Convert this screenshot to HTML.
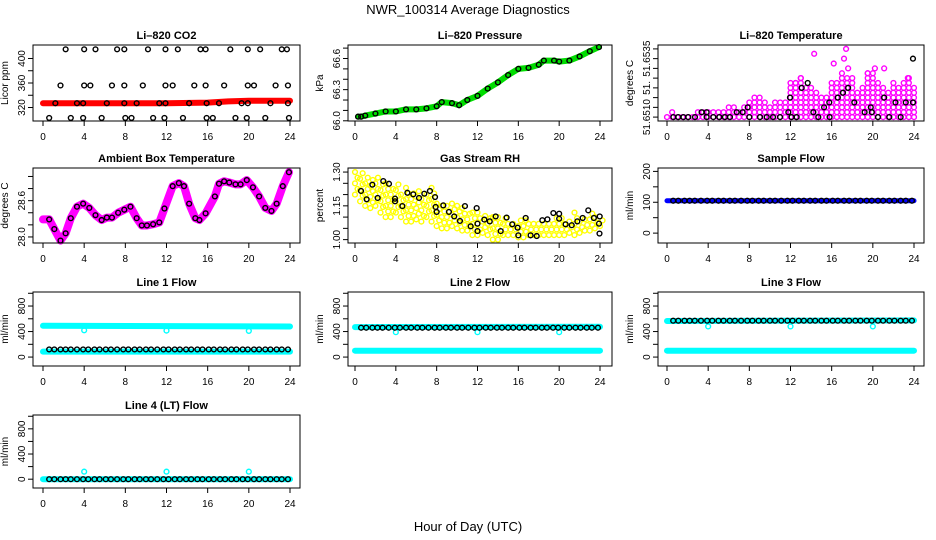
<!DOCTYPE html>
<html><head><meta charset="utf-8"><style>
html,body{margin:0;padding:0;background:#fff}
svg{display:block;font-family:"Liberation Sans",Arial,sans-serif}
</style></head><body>
<svg id="chart" width="936" height="540" viewBox="0 0 936 540" xmlns="http://www.w3.org/2000/svg">
<text x="468" y="14" text-anchor="middle" font-size="13">NWR_100314  Average Diagnostics</text>
<text x="468" y="531" text-anchor="middle" font-size="13">Hour of Day (UTC)</text>
</svg>
<script>
// ---------- data ----------
const xTicks = [0,4,8,12,16,20,24];
const blackHours = [0.6,1.1,1.7,2.2,2.7,3.3,3.9,4.4,5.0,5.5,6.1,6.6,7.2,7.8,8.3,8.9,9.4,10.0,10.5,11.1,11.7,12.2,12.8,13.3,13.9,14.4,15.0,15.5,16.1,16.6,17.2,17.7,18.3,18.8,19.4,19.9,20.5,21.0,21.6,22.1,22.7,23.2,23.8];

// CO2
const co2BandHours = [0,4,8,12,16,18,20,22,24];
const co2BandValues = [327,327,327,327,328,330,331,331,331];
const co2BlackHours = [2.2,4.0,5.1,7.2,7.9,10.2,11.9,13.1,15.3,15.8,18.2,19.9,21.1,23.2,23.7, 1.7,4.0,4.6,6.7,7.9,9.7,11.9,12.6,14.7,15.8,17.6,19.9,20.5,22.6,23.8, 1.2,3.3,3.9,6.2,7.9,9.1,11.3,11.9,14.2,15.9,17.1,19.3,19.9,22.1,23.8, 0.6,2.7,3.9,5.7,8.0,8.6,10.7,11.8,13.6,15.9,16.5,18.7,19.8,21.6,23.9];
const co2BlackValues = [415,415,415,415,415,415,415,415,415,415,415,415,415,415,415, 356,356,356,356,356,356,356,356,356,356,356,356,356,356,356, 327,327,327,327,327,327,327,327,327,327,327,327,327,327,327, 303,303,303,303,303,303,303,303,303,303,303,303,303,303,303];

// Pressure
const presHours = [0.3,0.6,1,2,3,4,5,6,7,8,8.5,9.5,10.2,11,12,13,14,15,16,17,18,18.5,19.5,20,21,22,23,23.9];
const presValues = [66.04,66.04,66.05,66.07,66.09,66.09,66.11,66.11,66.12,66.14,66.18,66.17,66.15,66.20,66.24,66.31,66.37,66.44,66.50,66.51,66.54,66.58,66.58,66.57,66.58,66.62,66.67,66.71];

// Li-820 temperature
const tempBlackHours = [0.62,1.1,1.6,2.07,2.72,3.36,3.85,3.85,4.5,5.09,5.63,6.12,6.77,7.35,7.84,8.0,9.04,9.69,10.3,10.98,11.79,11.95,12.1,12.6,13.09,13.67,14.22,14.7,15.26,15.77,15.8,16.6,17.1,17.6,18.2,19.2,19.8,19.9,20.5,21.1,21.6,22.2,22.7,23.2,23.9,23.9];
const tempBlackValues = [51.6505,51.6505,51.6505,51.6505,51.6505,51.65075,51.65075,51.6505,51.6505,51.6505,51.6505,51.6505,51.65075,51.65075,51.651,51.6505,51.6505,51.6505,51.6505,51.6505,51.65075,51.6515,51.6505,51.6505,51.652,51.65225,51.65075,51.6505,51.651,51.65125,51.6505,51.6515,51.65175,51.652,51.65125,51.65075,51.651,51.65075,51.6505,51.6515,51.6505,51.65125,51.6505,51.65125,51.65125,51.6535];
const tempMagHours = [0,0.5,1,1.5,2,2.5,3,3.5,4,4.5,5,5.5,6,6.5,7,7.5,8,8.5,9,9.5,10,10.5,11,11.5,12,12.5,13,13.5,14,14.5,15,15.5,16,16.5,17,17.5,18,18.5,19,19.5,20,20.5,21,21.5,22,22.5,23,23.5,24];
const tempMagHigh = [51.6505,51.65075,51.6505,51.6505,51.6505,51.6505,51.65075,51.65075,51.65075,51.65075,51.65075,51.65075,51.651,51.651,51.65075,51.651,51.65125,51.6515,51.6515,51.65125,51.651,51.65125,51.65125,51.65125,51.65225,51.65225,51.6525,51.652,51.652,51.65175,51.6515,51.6515,51.65225,51.65225,51.65275,51.6525,51.65225,51.65175,51.652,51.65275,51.65275,51.65225,51.652,51.65175,51.652,51.652,51.65225,51.6525,51.652];
const tempOutHours = [14.3,16.2,17.2,17.4,17.6,19.5,20.2,21.1,23.4,12.5,13.0,18.0,22.0];
const tempOutValues = [51.65375,51.65325,51.6535,51.654,51.653,51.65275,51.653,51.653,51.6525,51.65225,51.6525,51.6525,51.65225];

// Ambient box temperature
const ambHours = [0,0.6,1.1,1.7,2.2,2.7,3.3,3.9,4.5,5.1,5.7,6.2,6.7,7.3,7.9,8.5,9.1,9.6,10.1,10.7,11.3,11.8,12.6,13.2,13.7,14.2,14.8,15.2,15.8,16.7,17.1,17.6,18.1,18.7,19.2,19.8,20.4,21.0,21.6,22.2,22.7,23.3,23.9];
const ambValues = [28.29,28.29,28.13,27.94,28.06,28.31,28.50,28.55,28.48,28.36,28.28,28.32,28.32,28.40,28.45,28.50,28.31,28.19,28.19,28.21,28.24,28.47,28.84,28.89,28.84,28.55,28.31,28.28,28.39,28.67,28.88,28.92,28.90,28.87,28.87,28.94,28.82,28.67,28.48,28.43,28.55,28.84,29.07];

// Gas stream RH
const rhYellowHours = [0,0.5,1,1.5,2,2.5,3,3.5,4,4.5,5,5.5,6,6.5,7,7.5,8,8.5,9,9.5,10,10.5,11,11.5,12,12.5,13,13.5,14,14.5,15,15.5,16,16.5,17,17.5,18,18.5,19,19.5,20,20.5,21,21.5,22,22.5,23,23.5,24];
const rhYellowLow = [1.20,1.17,1.15,1.14,1.15,1.12,1.10,1.10,1.12,1.10,1.08,1.08,1.09,1.08,1.10,1.08,1.06,1.05,1.05,1.06,1.05,1.04,1.04,1.02,1.02,1.03,1.02,1.00,1.00,1.02,1.02,1.02,1.01,1.01,1.02,1.02,1.02,1.02,1.02,1.02,1.02,1.02,1.03,1.02,1.03,1.04,1.04,1.05,1.06];
const rhYellowHigh = [1.30,1.30,1.28,1.27,1.29,1.26,1.25,1.24,1.26,1.22,1.24,1.21,1.22,1.20,1.22,1.24,1.18,1.17,1.16,1.17,1.15,1.14,1.13,1.12,1.12,1.12,1.10,1.10,1.12,1.10,1.09,1.09,1.10,1.09,1.08,1.08,1.08,1.09,1.09,1.10,1.10,1.09,1.10,1.12,1.10,1.11,1.13,1.12,1.10];
const rhBlackHours = [0.59,1.14,1.7,2.22,2.77,3.33,3.92,3.92,4.64,5.13,5.71,6.27,6.79,7.34,7.84,7.9,8.0,8.65,9.2,9.72,10.28,10.77,11.33,11.92,12.0,12.0,12.67,13.2,13.78,14.27,14.85,15.4,15.93,16.0,16.72,17.2,17.8,18.35,18.85,19.43,20.0,20.0,20.63,21.23,21.78,22.3,22.85,23.4,23.9,23.97,23.95];
const rhBlackValues = [1.216,1.179,1.244,1.185,1.26,1.248,1.182,1.17,1.149,1.208,1.201,1.185,1.204,1.216,1.189,1.145,1.123,1.152,1.123,1.103,1.083,1.149,1.059,1.14,1.071,1.038,1.089,1.081,1.103,1.038,1.098,1.068,1.053,1.019,1.096,1.019,1.016,1.086,1.09,1.118,1.115,1.093,1.068,1.064,1.081,1.096,1.13,1.096,1.071,1.103,1.027];

// Flows
const sampleBand = [105,105];
const sampleBlack = 105;
const flowBandHours = [0,24];
const line1Cyan = [[490,480],[85,85]];
const line1Black = 120;
const line2Cyan = [[470,475],[100,100]];
const line2Black = 460;
const line3Cyan = [[565,575],[100,100]];
const line3Black = 570;
const line4Cyan = [[0,0]];
const line4Black = 0;
const dipHours = [4,12,20];
const line1Dips = [420,415,410];
const line2Dips = [390,390,390];
const line3Dips = [480,480,480];
const line4Dips = [120,120,120];

// ---------- drawing ----------
const NS = 'http://www.w3.org/2000/svg';
const svg = document.getElementById('chart');
const cols = [{L:33,R:300,x0:43,x24:290},{L:348,R:612,x0:355,x24:600},{L:658,R:924,x0:667,x24:914}];
const rows = [{T:45,B:121},{T:168,B:243},{T:292,B:366},{T:415,B:488}];
function mk(tag, attrs, parent){const e=document.createElementNS(NS,tag);for(const k in attrs)e.setAttribute(k,attrs[k]);(parent||svg).appendChild(e);return e;}

function panel(ci, ri, name, title, ylab, ymin, ymax, ticks, labels){
  const c=cols[ci], r=rows[ri];
  const g=mk('g',{});
  
  
  const x=h=>c.x0+(h/24)*(c.x24-c.x0);
  const y=v=>r.B-(v-ymin)/(ymax-ymin)*(r.B-r.T);
  const t=mk('text',{x:(c.L+c.R)/2,y:r.T-6,'text-anchor':'middle','font-size':11,'font-weight':'bold'},g);
  t.textContent=title;
  
  
  const yl=mk('text',{transform:`translate(${c.L-25},${(r.T+r.B)/2}) rotate(-90)`,'text-anchor':'middle','font-size':10},g);
  yl.textContent=ylab;
  
  
  const xa=mk('g',{},g);
  
  
  xTicks.forEach(h=>{
    mk('line',{x1:x(h),x2:x(h),y1:r.B,y2:r.B+5,stroke:'#000','stroke-width':1},xa);
    const tl=mk('text',{x:x(h),y:r.B+19,'text-anchor':'middle','font-size':10},xa);
    tl.textContent=h;
  });
  const ya=mk('g',{},g);
  
  
  ticks.forEach(v=>mk('line',{x1:c.L-5,x2:c.L,y1:y(v),y2:y(v),stroke:'#000','stroke-width':1},ya));
  labels.forEach(([v,s])=>{
    const tl=mk('text',{transform:`translate(${c.L-8},${y(v)}) rotate(-90)`,'text-anchor':'middle','font-size':10},ya);
    tl.textContent=s;
  });
  const marks=mk('g',{},g);
  
  
  const box=mk('rect',{x:c.L,y:r.T,width:c.R-c.L,height:r.B-r.T,fill:'none',stroke:'#000','stroke-width':1},g);
  
  
  return {x,y,g:marks};
}
function band(p, hs, vs, color, w){
  mk('polyline',{points:hs.map((h,i)=>p.x(h)+','+p.y(vs[i])).join(' '),fill:'none',stroke:color,'stroke-width':w,'stroke-linejoin':'round','stroke-linecap':'round'},p.g);
}
function pt(p,h,v,color){
  const e=mk('circle',{cx:p.x(h),cy:p.y(v),r:2.4,fill:'none',stroke:color,'stroke-width':1.4},p.g);
  
  
}

// CO2
let p=panel(0,0,'co2','Li–820 CO2','Licor ppm',298,422,[320,340,360,380,400],[[320,'320'],[360,'360'],[400,'400']]);
band(p,co2BandHours,co2BandValues,'#f00',6);
co2BlackHours.forEach((h,i)=>pt(p,h,co2BlackValues[i],'#000'));

// Pressure
p=panel(1,0,'pressure','Li–820 Pressure','kPa',65.998,66.73,[66.0,66.1,66.2,66.3,66.4,66.5,66.6,66.7],[[66.0,'66.0'],[66.3,'66.3'],[66.6,'66.6']]);
band(p,presHours,presValues,'#0d0',6);
presHours.forEach((h,i)=>pt(p,h,presValues[i],'#000'));

// Li-820 temperature
p=panel(2,0,'li820-temperature','Li–820 Temperature','degrees C',51.6503,51.6542,[51.6505,51.651,51.6515,51.652,51.6525,51.653,51.6535,51.654],[[51.6505,'51.6510'],[51.652,'51.'],[51.6535,'51.6535']]);
tempMagHours.forEach((h,i)=>{for(let v=51.6505;v<=tempMagHigh[i]+1e-7;v+=0.00025){pt(p,h,v,'#f0f');}});
tempOutHours.forEach((h,i)=>pt(p,h,tempOutValues[i],'#f0f'));
tempBlackHours.forEach((h,i)=>pt(p,h,tempBlackValues[i],'#000'));

// Ambient
p=panel(0,1,'ambient-temperature','Ambient Box Temperature','degrees C',27.9,29.14,[28.0,28.2,28.4,28.6,28.8,29.0],[[28.0,'28.0'],[28.6,'28.6']]);
band(p,ambHours,ambValues,'#f0f',8);
ambHours.slice(1).forEach((h,i)=>pt(p,h,ambValues[i+1],'#000'));

// RH
p=panel(1,1,'gas-stream-rh','Gas Stream RH','percent',0.985,1.318,[1.0,1.05,1.1,1.15,1.2,1.25,1.3],[[1.0,'1.00'],[1.15,'1.15'],[1.3,'1.30']]);
rhYellowHours.forEach((h,i)=>{let k=0;for(let v=rhYellowLow[i];v<=rhYellowHigh[i]+1e-6;v+=0.025){pt(p,h+(k%2?0.25:0),v,'#ff0');k++;}});
rhBlackHours.forEach((h,i)=>pt(p,h,rhBlackValues[i],'#000'));

// Sample flow
p=panel(2,1,'sample-flow','Sample Flow','ml/min',-32,211,[0,50,100,150,200],[[0,'0'],[100,'100'],[200,'200']]);
band(p,flowBandHours,sampleBand,'#00f',5);
blackHours.forEach(h=>pt(p,h,sampleBlack,'#000'));

const fTicks=[0,200,400,600,800,1000], fLabels=[[0,'0'],[400,'400'],[800,'800']];
function flowPanel(ci,ri,name,title,cyan,black,dips){
  const q=panel(ci,ri,name,title,'ml/min',-140,1020,fTicks,fLabels);
  cyan.forEach(vs=>band(q,flowBandHours,vs,'#0ff',6));
  dipHours.forEach((h,i)=>pt(q,h,dips[i],'#0ff'));
  blackHours.forEach(h=>pt(q,h,black,'#000'));
}
flowPanel(0,2,'line1-flow','Line 1 Flow',line1Cyan,line1Black,line1Dips);
flowPanel(1,2,'line2-flow','Line 2 Flow',line2Cyan,line2Black,line2Dips);
flowPanel(2,2,'line3-flow','Line 3 Flow',line3Cyan,line3Black,line3Dips);
flowPanel(0,3,'line4-flow','Line 4 (LT) Flow',line4Cyan,line4Black,line4Dips);
</script>
</body></html>
